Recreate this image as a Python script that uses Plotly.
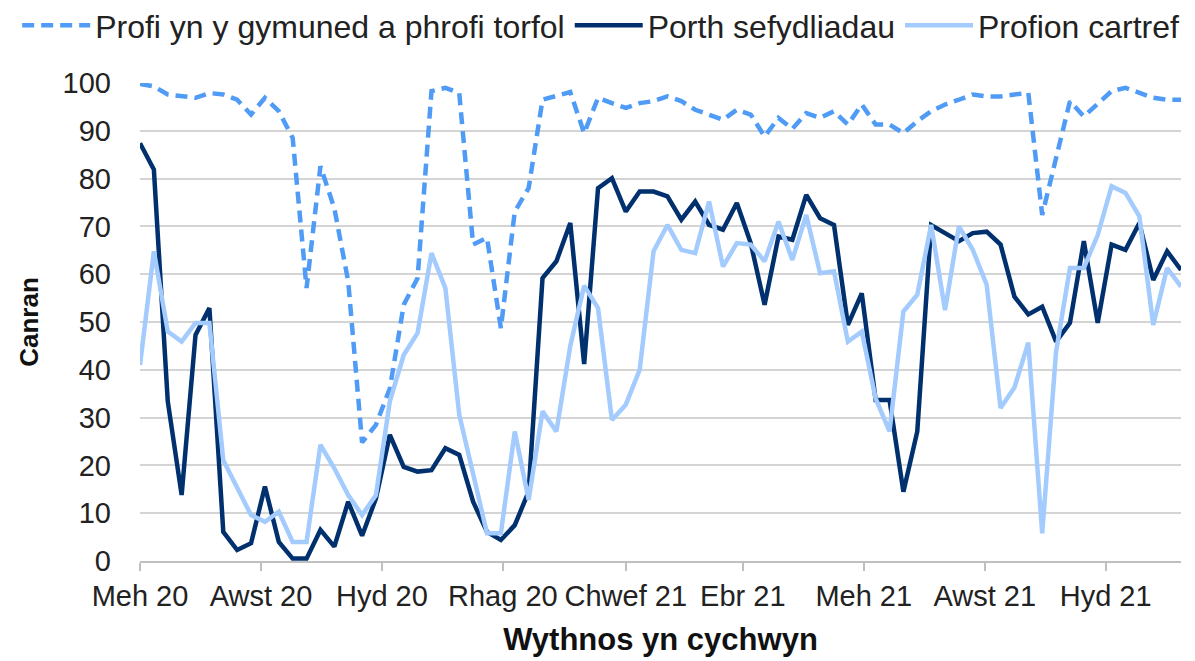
import plotly.graph_objects as go

weeks = [
    "2020-06-01", "2020-06-08", "2020-06-15", "2020-06-22", "2020-06-29",
    "2020-07-06", "2020-07-13", "2020-07-20", "2020-07-27",
    "2020-08-03", "2020-08-10", "2020-08-17", "2020-08-24", "2020-08-31",
    "2020-09-07", "2020-09-14", "2020-09-21", "2020-09-28",
    "2020-10-05", "2020-10-12", "2020-10-19", "2020-10-26",
    "2020-11-02", "2020-11-09", "2020-11-16", "2020-11-23", "2020-11-30",
    "2020-12-07", "2020-12-14", "2020-12-21", "2020-12-28",
    "2021-01-04", "2021-01-11", "2021-01-18", "2021-01-25",
    "2021-02-01", "2021-02-08", "2021-02-15", "2021-02-22",
    "2021-03-01", "2021-03-08", "2021-03-15", "2021-03-22", "2021-03-29",
    "2021-04-05", "2021-04-12", "2021-04-19", "2021-04-26",
    "2021-05-03", "2021-05-10", "2021-05-17", "2021-05-24", "2021-05-31",
    "2021-06-07", "2021-06-14", "2021-06-21", "2021-06-28",
    "2021-07-05", "2021-07-12", "2021-07-19", "2021-07-26",
    "2021-08-02", "2021-08-09", "2021-08-16", "2021-08-23", "2021-08-30",
    "2021-09-06", "2021-09-13", "2021-09-20", "2021-09-27",
    "2021-10-04", "2021-10-11", "2021-10-18", "2021-10-25",
    "2021-11-01", "2021-11-08",
]

community = [
    99.8, 99.3, 97.6, 97.2, 96.9, 97.9, 97.6, 96.5, 93.4, 96.9,
    94.1, 88.5, 57.1, 82.6, 73.8, 58.5, 24.8, 28.5, 36.1, 53.6,
    59.2, 98.3, 99.0, 97.9, 66.2, 67.6, 48.7, 73.1, 78.0, 96.5,
    97.2, 98.1, 89.5, 96.9, 95.8, 94.8, 95.8, 96.2, 97.2, 96.2,
    94.4, 93.4, 92.3, 94.4, 93.4, 88.8, 92.7, 90.4, 93.7, 92.7,
    94.1, 91.3, 95.5, 91.3, 91.3, 89.5, 92.0, 94.1, 95.5, 96.5,
    97.6, 97.2, 97.2, 97.6, 97.9, 72.4, 84.3, 96.2, 93.0, 95.5,
    98.3, 99.0, 97.9, 96.9, 96.5, 96.5,
]

institutional = [
    87.4, 81.9, 33.4, 13.8, 47.3, 52.9, 6.1, 2.3, 3.7, 15.6,
    4.0, 0.5, 0.5, 6.5, 3.0, 12.4, 5.3, 13.1, 26.4, 19.7,
    18.7, 19.0, 23.6, 22.2, 12.4, 6.1, 4.4, 7.5, 14.5, 59.2,
    62.7, 70.7, 41.2, 78.0, 80.1, 73.1, 77.3, 77.3, 76.3, 71.4,
    75.2, 70.3, 69.3, 74.9, 66.5, 53.6, 67.9, 67.2, 76.6, 71.7,
    70.3, 49.4, 56.0, 33.7, 33.7, 14.5, 27.1, 70.3, 68.6, 66.9,
    68.6, 68.9, 66.2, 55.3, 51.6, 53.2, 45.9, 49.8, 66.9, 49.8,
    66.2, 65.1, 70.7, 58.8, 64.8, 60.9,
]

home = [
    41.0, 64.8, 48.0, 45.9, 49.8, 49.8, 21.1, 15.2, 9.6, 8.2,
    10.3, 4.0, 4.0, 24.3, 19.4, 13.8, 9.6, 13.8, 33.4, 43.1,
    47.7, 64.4, 57.1, 30.6, 18.0, 5.8, 5.8, 27.1, 12.8, 31.3,
    27.1, 45.0, 57.6, 52.9, 29.5, 32.7, 40.0, 64.8, 70.3, 65.1,
    64.4, 75.2, 61.6, 66.5, 66.2, 62.7, 71.0, 63.0, 72.4, 60.2,
    60.6, 45.9, 48.0, 34.0, 27.1, 52.2, 55.7, 70.3, 52.5, 70.0,
    65.1, 57.8, 32.0, 36.3, 45.7, 5.8, 43.8, 61.3, 61.3, 68.2,
    78.4, 77.0, 72.1, 49.4, 61.3, 57.4,
]

tick_dates = ["2020-06-01", "2020-08-01", "2020-10-01", "2020-12-01", "2021-02-01",
              "2021-04-01", "2021-06-01", "2021-08-01", "2021-10-01"]
tick_labels = ["Meh 20", "Awst 20", "Hyd 20", "Rhag 20", "Chwef 21",
               "Ebr 21", "Meh 21", "Awst 21", "Hyd 21"]

FONT = "Liberation Sans, Arial, sans-serif"

fig = go.Figure()
fig.add_trace(go.Scatter(
    x=weeks, y=community, mode="lines", name="Profi yn y gymuned a phrofi torfol",
    line=dict(color="#4F9BF5", width=4.5, dash="12px,7px"),
))
fig.add_trace(go.Scatter(
    x=weeks, y=institutional, mode="lines", name="Porth sefydliadau",
    line=dict(color="#00306E", width=4.5),
))
fig.add_trace(go.Scatter(
    x=weeks, y=home, mode="lines", name="Profion cartref",
    line=dict(color="#A3CBFD", width=4.5),
))

fig.update_layout(
    width=1195, height=661,
    margin=dict(l=132, r=22, t=75, b=108, autoexpand=False),
    paper_bgcolor="white", plot_bgcolor="white",
    font=dict(family=FONT, color="#222222"),
    showlegend=True,
    legend=dict(
        orientation="h",
        x=-0.118, y=1.063, xanchor="left", yanchor="bottom",
        font=dict(size=32, family=FONT, color="#222222"),
        itemwidth=68, bgcolor="rgba(0,0,0,0)",
    ),
    xaxis=dict(
        type="date",
        range=["2020-06-01", "2021-11-08"],
        tickvals=tick_dates, ticktext=tick_labels,
        tickfont=dict(size=29, family=FONT, color="#222222"),
        showgrid=False, showline=True, linecolor="#BFBFBF", linewidth=2,
        ticks="outside", ticklen=8, tickcolor="#BFBFBF", tickwidth=2,
        ticklabelstandoff=0,
        zeroline=False,
        title=dict(text="<b>Wythnos yn cychwyn</b>", font=dict(size=31, family=FONT, color="#111111"),
                   standoff=18),
    ),
    yaxis=dict(
        range=[0, 100], tickvals=list(range(0, 101, 10)),
        tickfont=dict(size=29, family=FONT, color="#222222"),
        showgrid=True, gridcolor="#D4D4D4", gridwidth=1.5,
        zeroline=False, showline=False,
        ticklabelstandoff=28,
        title=dict(text="<b>Canran</b>", font=dict(size=26, family=FONT, color="#111111"),
                   standoff=16),
    ),
)

fig.write_html("out.html")
